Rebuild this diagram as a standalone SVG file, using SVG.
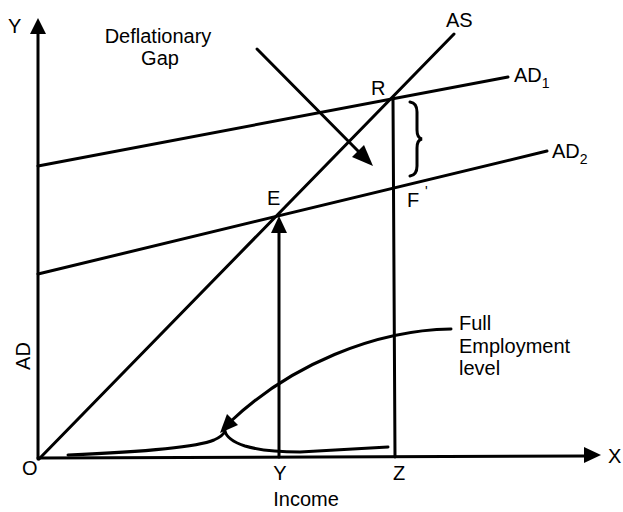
<svg xmlns="http://www.w3.org/2000/svg" width="623" height="512" viewBox="0 0 623 512">
<defs>
<style>
.ln{stroke:#000;stroke-width:3;fill:none;stroke-linecap:round}
.t{font-family:"Liberation Sans",Arial,sans-serif;font-size:20px;fill:#000}
.s{font-size:14px}
</style>
</defs>
<rect width="623" height="512" fill="#fff"/>
<g id="connectors">
<line class="ln" x1="38" y1="459" x2="38" y2="34" stroke-width="3.2"/>
<path d="M38,18 L30,34 L46,34 z" fill="#000"/>
<line class="ln" x1="38" y1="458" x2="586" y2="456" stroke-width="3.2"/>
<path d="M601,455 L584,447 L584,463 z" fill="#000"/>
<line class="ln" x1="39" y1="459" x2="454" y2="34"/>
<line class="ln" x1="38" y1="166" x2="508" y2="77"/>
<line class="ln" x1="38" y1="274" x2="547" y2="151"/>
<line class="ln" x1="279" y1="457" x2="279" y2="232"/>
<path d="M279,216 L271,233 L287,233 z" fill="#000"/>
<line class="ln" x1="393" y1="98" x2="395" y2="457"/>
<line class="ln" x1="257" y1="49" x2="362" y2="155"/>
<path d="M373,166 L352,157 L364,145 z" fill="#000"/>
<path class="ln" stroke-width="2.2" d="M410,102 Q417,103 417,112 L417,130 Q417,138 422,139 Q417,140 417,148 L417,166 Q417,175 410,176"/>
<path class="ln" d="M451,329 C375,330 290,365 230,422"/>
<path d="M220,433 L227,414 L238,425 z" fill="#000"/>
<path class="ln" stroke-width="2.4" d="M68,455 Q190,450 214,440 Q223,436 225,431 Q227,440 245,446 Q265,452 300,452 L388,447"/>
</g>
<g id="label-deflationary">
<text class="t" x="158" y="43" text-anchor="middle">Deflationary</text>
<text class="t" x="160" y="65" text-anchor="middle">Gap</text>
</g>
<g id="label-full">
<text class="t" x="459" y="330">Full</text>
<text class="t" x="459" y="353">Employment</text>
<text class="t" x="459" y="375">level</text>
</g>
<g id="node-AS"><text class="t" x="446" y="27">AS</text></g>
<g id="node-AD1"><text class="t" x="514" y="82">AD<tspan class="s" dy="6">1</tspan></text></g>
<g id="node-AD2"><text class="t" x="552" y="158">AD<tspan class="s" dy="6">2</tspan></text></g>
<g id="node-R"><text class="t" x="371" y="95">R</text></g>
<g id="node-E"><text class="t" x="267" y="205">E</text></g>
<g id="node-F"><text class="t" x="407" y="207">F</text><text class="t s" x="425" y="196">'</text></g>
<g id="axis-labels">
<text class="t" x="8" y="33">Y</text>
<text class="t" x="608" y="463">X</text>
<text class="t" x="22" y="475">O</text>
<text class="t" x="280" y="480" text-anchor="middle">Y</text>
<text class="t" x="399" y="480" text-anchor="middle">Z</text>
<text class="t" x="306" y="506" text-anchor="middle">Income</text>
<text class="t" transform="translate(30,356) rotate(-90)" text-anchor="middle">AD</text>
</g>
</svg>
